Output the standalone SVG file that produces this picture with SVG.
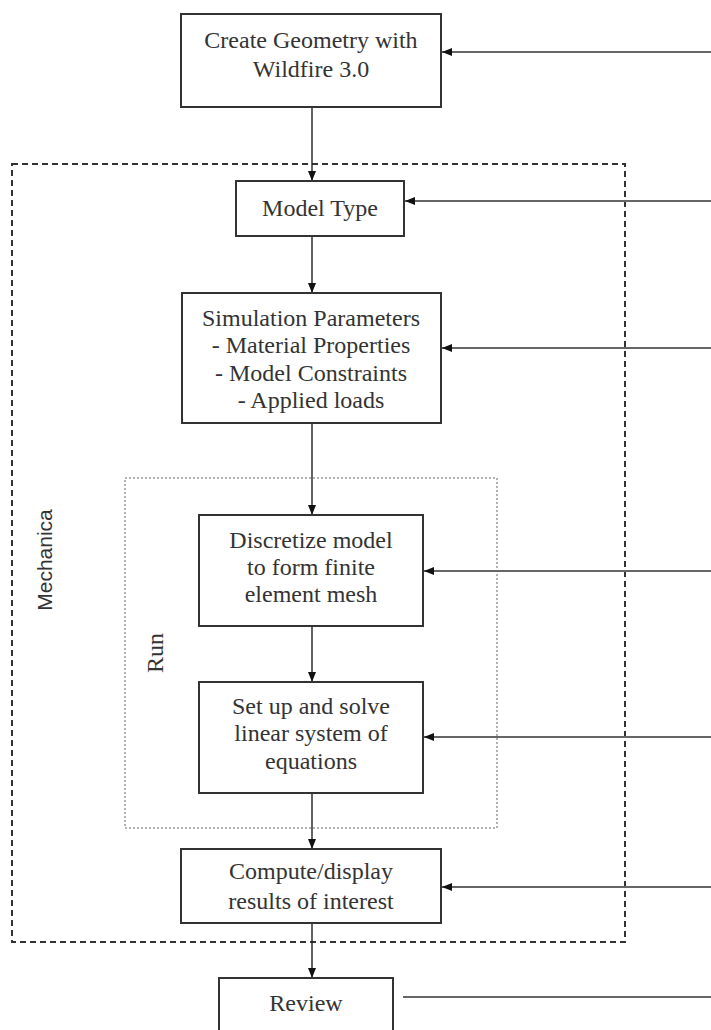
<svg xmlns="http://www.w3.org/2000/svg" width="711" height="1030" viewBox="0 0 711 1030">
<defs>
<marker id="ah" viewBox="0 0 10 10" refX="10" refY="5" markerWidth="10" markerHeight="10" markerUnits="userSpaceOnUse" orient="auto">
<path d="M0,1 L10,5 L0,9 Z" fill="#111"/>
</marker>
<style>
.box{fill:#fff;stroke:#333;stroke-width:2}
.t{font-family:"Liberation Serif","Times New Roman",serif;font-size:24px;fill:#333;text-anchor:middle}
.c{fill:none;stroke:#222;stroke-width:1.4}
.h{fill:none;stroke:#666;stroke-width:1.8}
</style>
</defs>
<rect width="711" height="1030" fill="#fff"/>
<g id="mechanica">
<rect x="12" y="164" width="613" height="778" fill="none" stroke="#333" stroke-width="2" stroke-dasharray="6,4"/>
<text transform="translate(52,560) rotate(-90)" style="font-family:'Liberation Sans',Arial,sans-serif;font-size:21px;fill:#333;text-anchor:middle">Mechanica</text>
</g>
<g id="run">
<rect x="125" y="478" width="372" height="350" fill="none" stroke="#999" stroke-width="1.5" stroke-dasharray="2,2"/>
<text class="t" transform="translate(163,653) rotate(-90)">Run</text>
</g>
<g id="connectors">
<line class="c" x1="312" y1="107" x2="312" y2="181" marker-end="url(#ah)"/>
<line class="c" x1="312" y1="236" x2="312" y2="293" marker-end="url(#ah)"/>
<line class="c" x1="312" y1="423" x2="312" y2="515" marker-end="url(#ah)"/>
<line class="c" x1="312" y1="626" x2="312" y2="682" marker-end="url(#ah)"/>
<line class="c" x1="312" y1="793" x2="312" y2="849" marker-end="url(#ah)"/>
<line class="c" x1="312" y1="923" x2="312" y2="978" marker-end="url(#ah)"/>
<line class="h" x1="711" y1="52" x2="442" y2="52" marker-end="url(#ah)"/>
<line class="h" x1="711" y1="201" x2="405" y2="201" marker-end="url(#ah)"/>
<line class="h" x1="711" y1="348" x2="442" y2="348" marker-end="url(#ah)"/>
<line class="h" x1="711" y1="571" x2="424" y2="571" marker-end="url(#ah)"/>
<line class="h" x1="711" y1="737" x2="424" y2="737" marker-end="url(#ah)"/>
<line class="h" x1="711" y1="887" x2="442" y2="887" marker-end="url(#ah)"/>
<line class="h" x1="403" y1="997" x2="711" y2="997"/>
</g>
<g id="create-geometry">
<rect class="box" x="181" y="14" width="260" height="93"/>
<text class="t" x="311" y="48">Create Geometry with</text>
<text class="t" x="311" y="77">Wildfire 3.0</text>
</g>
<g id="model-type">
<rect class="box" x="236" y="181" width="168" height="55"/>
<text class="t" x="320" y="216">Model Type</text>
</g>
<g id="simulation-parameters">
<rect class="box" x="182" y="293" width="259" height="130"/>
<text class="t" x="311" y="326">Simulation Parameters</text>
<text class="t" x="311" y="353">- Material Properties</text>
<text class="t" x="311" y="381">- Model Constraints</text>
<text class="t" x="311" y="408">- Applied loads</text>
</g>
<g id="discretize">
<rect class="box" x="199" y="515" width="224" height="111"/>
<text class="t" x="311" y="548">Discretize model</text>
<text class="t" x="311" y="575">to form finite</text>
<text class="t" x="311" y="602">element mesh</text>
</g>
<g id="solve">
<rect class="box" x="199" y="682" width="224" height="111"/>
<text class="t" x="311" y="714">Set up and solve</text>
<text class="t" x="311" y="741">linear system of</text>
<text class="t" x="311" y="769">equations</text>
</g>
<g id="compute">
<rect class="box" x="181" y="849" width="260" height="74"/>
<text class="t" x="311" y="879">Compute/display</text>
<text class="t" x="311" y="909">results of interest</text>
</g>
<g id="review">
<rect class="box" x="219" y="978" width="174" height="70"/>
<text class="t" x="306" y="1011">Review</text>
</g>
</svg>
